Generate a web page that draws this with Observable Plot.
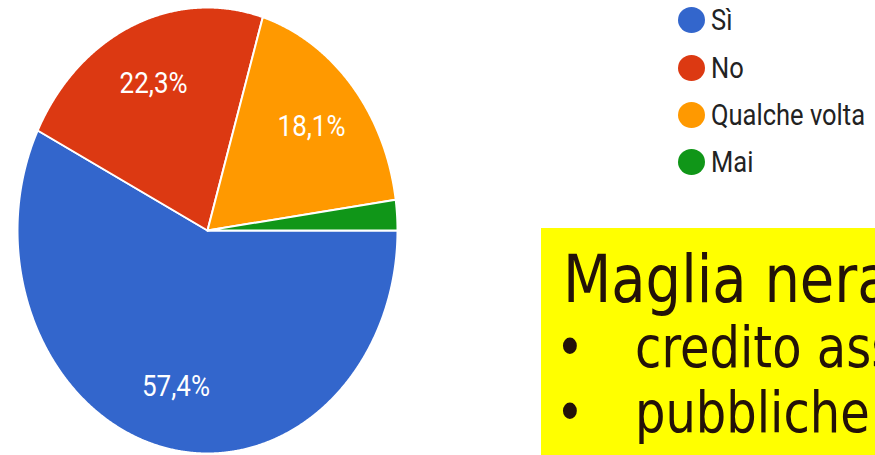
<!DOCTYPE html>
<html><head><meta charset="utf-8">
<script src="https://cdn.jsdelivr.net/npm/d3@7"></script>
<script src="https://cdn.jsdelivr.net/npm/@observablehq/plot@0.6"></script>
<style>
html,body{margin:0;padding:0;background:#fff;}
body{width:875px;height:455px;overflow:hidden;position:relative;font-family:Roboto,"Liberation Sans",sans-serif;}
#chart{position:absolute;left:0;top:0;}
.leg{position:absolute;left:678px;height:26px;display:flex;align-items:center;white-space:nowrap;}
.leg .sw{width:27px;height:26px;border-radius:50%;flex:none;}
.leg .lb{margin-left:6px;font-size:25.5px;color:#222;transform:scaleY(1.12);transform-origin:left center;}
#box{position:absolute;left:530px;top:220px;}
</style></head><body>
<div id="chart"></div>
<div id="legend"></div>
<svg id="box" width="345" height="235"></svg>
<script>
const categories = ["Sì", "No", "Qualche volta", "Mai"];
const values = [57.4, 22.3, 18.1, 2.2];
const colors = ["#3366cc", "#dc3912", "#ff9900", "#109618"];
const boxTitle = "Maglia nera";
const boxItems = ["credito assicurativo", "pubbliche amministrazioni"];

const total = d3.sum(values);
const start = Math.PI / 2; // clockwise from north: begin at 3 o'clock
let acc = 0;
const slices = categories.map((c, i) => {
  const a0 = start + acc / total * 2 * Math.PI;
  acc += values[i];
  const a1 = start + acc / total * 2 * Math.PI;
  return {c, v: values[i], a0, a1};
});
const pts = [];
slices.forEach(s => {
  pts.push({c: s.c, x: 0, y: 0});
  const n = Math.max(4, Math.ceil((s.a1 - s.a0) / 0.005));
  for (let k = 0; k <= n; k++) {
    const a = s.a0 + (s.a1 - s.a0) * k / n;
    pts.push({c: s.c, x: Math.sin(a), y: Math.cos(a)});
  }
  pts.push({c: s.c, x: 0, y: 0});
});
const labels = slices.filter(s => s.v >= 5).map(s => {
  const m = (s.a0 + s.a1) / 2, r = 0.72;
  return {x: r * Math.sin(m), y: r * Math.cos(m), t: s.v.toFixed(1).replace(".", ",") + "%"};
});

const chart = Plot.plot({
  width: 440, height: 455, margin: 0,
  x: {domain: [-1, 1], range: [17, 397], axis: null},
  y: {domain: [-1, 1], range: [453, 7], axis: null},
  color: {domain: categories, range: colors},
  marks: [
    Plot.line(pts, {x: "x", y: "y", z: "c", fill: "c", stroke: "white", strokeWidth: 2, strokeLinejoin: "round"}),
    Plot.text(labels, {x: "x", y: "y", text: "t", fill: "white", fontSize: 26, fontFamily: "Roboto", textAnchor: "middle", lineAnchor: "middle"})
  ]
});
document.getElementById("chart").appendChild(chart);
chart.querySelectorAll('g[aria-label="text"] text').forEach(t => {
  let tr = t.getAttribute("transform");
  if (!tr) {
    const x = t.getAttribute("x") || 0, y = t.getAttribute("y") || 0;
    t.removeAttribute("x"); t.removeAttribute("y");
    tr = `translate(${x},${y})`;
  }
  t.setAttribute("transform", tr + " scale(1,1.17)");
});

// legend
const legTops = [20, 68, 115, 162];
const leg = document.getElementById("legend");
categories.forEach((c, i) => {
  const row = document.createElement("div");
  row.className = "leg";
  row.style.top = (legTops[i] - 13) + "px";
  row.innerHTML = `<div class="sw" style="background:${colors[i]}"></div><div class="lb">${c}</div>`;
  leg.appendChild(row);
});

// yellow note box
const box = d3.select("#box");
box.append("rect").attr("x", 11).attr("y", 8).attr("width", 334).attr("height", 227).attr("fill", "#ffff00");
const ink = "#231208", ff = "'DejaVu Sans', sans-serif";
box.append("text").attr("transform", "translate(33,82) scale(1,1.17)").attr("font-family", ff).attr("font-size", 56).attr("fill", ink).text(boxTitle);
const baselines = [147, 212];
boxItems.forEach((t, i) => {
  box.append("text").attr("transform", `translate(40,${baselines[i]}) scale(1,1.17)`).attr("text-anchor", "middle").attr("font-family", ff).attr("font-size", 48).attr("fill", ink).text("•");
  box.append("text").attr("transform", `translate(105,${baselines[i]}) scale(1,1.17)`).attr("font-family", ff).attr("font-size", 48).attr("fill", ink).text(t);
});
</script>
</body></html>
